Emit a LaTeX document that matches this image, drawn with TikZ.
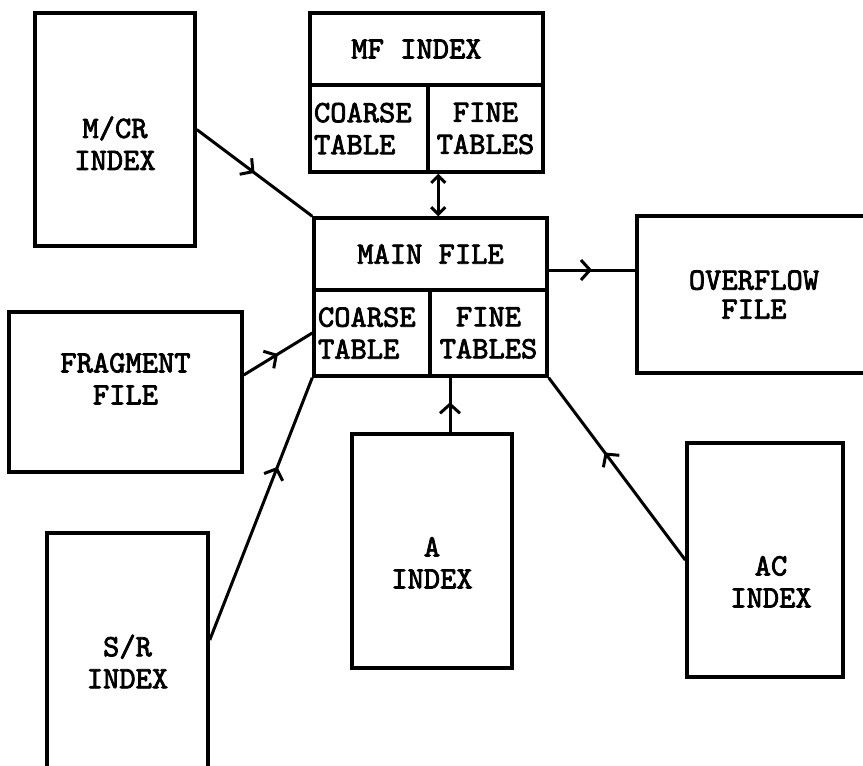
\documentclass[tikz,border=0pt]{standalone}
\usepackage{fontspec}
\newfontfamily\boxfont[Extension=.otf, FakeBold=2.5]{lmmono10-regular}
\usetikzlibrary{arrows.meta, decorations.markings, positioning}
% text lowered inside its box, box size kept
\newcommand{\boxlines}[2]{\raisebox{#1}[\height][\depth]{\begin{tabular}{@{}c@{}}#2\end{tabular}}}

\begin{document}
\begin{tikzpicture}[x=1pt, y=-1pt,
    box/.style={draw, line width=3.5pt, inner sep=4pt, align=center,
        font=\boxfont\fontsize{31}{32}\selectfont},
    link/.style={line width=3pt, postaction={decorate}, decoration={markings,
        mark=at position #1 with {\arrow{Straight Barb[length=9pt, width=20pt]}}}},
    link/.default=0.5]
    \useasboundingbox (0,0) rectangle (863,766);
    % index and file boxes
    \node[box, minimum width=160, minimum height=233] (mcr) at (115,129.5) {\boxlines{-18pt}{M/CR\\INDEX}};
    \node[box, minimum width=233, minimum height=160] (frag) at (125.5,392) {\boxlines{10pt}{FRAGMENT\\FILE}};
    \node[box, minimum width=161, minimum height=257] (sr) at (127.5,661.5) {S/R\\INDEX};
    \node[box, minimum width=160, minimum height=234] (aidx) at (432,551) {\boxlines{-15pt}{A\\INDEX}};
    \node[box, minimum width=156, minimum height=234] (ac) at (765,560) {\hspace{12pt}\boxlines{-25pt}{AC\\INDEX}};
    \node[box, minimum width=234, minimum height=157] (ovf) at (754,294.5) {OVERFLOW\\[-3pt]FILE};
    % MF index
    \node[box, minimum width=233, minimum height=72] (mfhead) at (426.5,49) {MF INDEX\hspace{20pt}};
    \node[box, minimum width=118, minimum height=87, text width=110, align=left] (mfcoarse) at (369,128.5) {COARSE\\TABLE};
    \node[box, minimum width=115, minimum height=87] (mffine) at (485.5,128.5) {FINE\\TABLES};
    % main file
    \node[box, minimum width=233, minimum height=72] (mainhead) at (430.5,254) {MAIN FILE};
    \node[box, minimum width=116, minimum height=86, text width=108, align=left] (maincoarse) at (372,333) {COARSE\\TABLE};
    \node[box, minimum width=117, minimum height=86] (mainfine) at (488.5,333) {FINE\\TABLES};
    % connectors
    \draw[line width=3pt, {Straight Barb[length=7pt, width=14pt]}-{Straight Barb[length=7pt, width=14pt]}]
        ([xshift=12pt]mffine.south west) -- ([xshift=12pt]mffine.south west |- mainhead.north);
    \draw[link] (mcr.east) -- (mainhead.north west);
    \draw[link] ([yshift=17pt]frag.east) -- (maincoarse.west);
    \draw[link=0.66] ([yshift=21.5pt]sr.east) -- (maincoarse.south west);
    \draw[link=0.55] ([xshift=18pt]aidx.north) -- ([xshift=18pt]aidx.north |- mainfine.south);
    \draw[link=0.59] (ac.west) -- (mainfine.south east);
    \draw[link] ([yshift=-16pt]mainhead.east) -- ([yshift=-16pt]mainhead.east -| ovf.west);
\end{tikzpicture}
\end{document}
